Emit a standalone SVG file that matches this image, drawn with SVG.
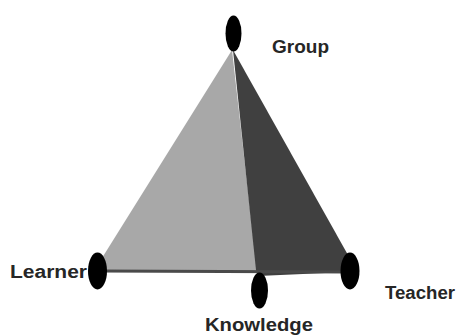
<svg xmlns="http://www.w3.org/2000/svg" width="458" height="336" viewBox="0 0 458 336">
<style>
.lbl{font-family:"Liberation Sans",Arial,sans-serif;font-weight:bold;font-size:18px;fill:#262626}
.dot{fill:#000}
</style>
<rect width="458" height="336" fill="#fff"/>
<g id="faces">
<polygon points="232,50 102,258 104,271 257,271" fill="#a8a8a8"/>
<polygon points="233,50 348,255 348,272 258,276 256,270" fill="#404040"/>
</g>
<g id="connectors">
<line x1="100" y1="271" x2="348" y2="272" stroke="#4a4a4a" stroke-width="3"/>
</g>
<g id="group">
<ellipse class="dot" cx="233.5" cy="33.5" rx="8" ry="18"/>
<text class="lbl" x="272" y="53" textLength="57" lengthAdjust="spacingAndGlyphs">Group</text>
</g>
<g id="learner">
<ellipse class="dot" cx="97.5" cy="271" rx="9.5" ry="18.5"/>
<text class="lbl" x="10" y="278" textLength="77" lengthAdjust="spacingAndGlyphs">Learner</text>
</g>
<g id="knowledge">
<ellipse class="dot" cx="259.5" cy="290.5" rx="8.5" ry="18"/>
<text class="lbl" x="205" y="331" textLength="108" lengthAdjust="spacingAndGlyphs">Knowledge</text>
</g>
<g id="teacher">
<ellipse class="dot" cx="350" cy="271" rx="9.5" ry="18.5"/>
<text class="lbl" x="385" y="299" textLength="70" lengthAdjust="spacingAndGlyphs">Teacher</text>
</g>
</svg>
